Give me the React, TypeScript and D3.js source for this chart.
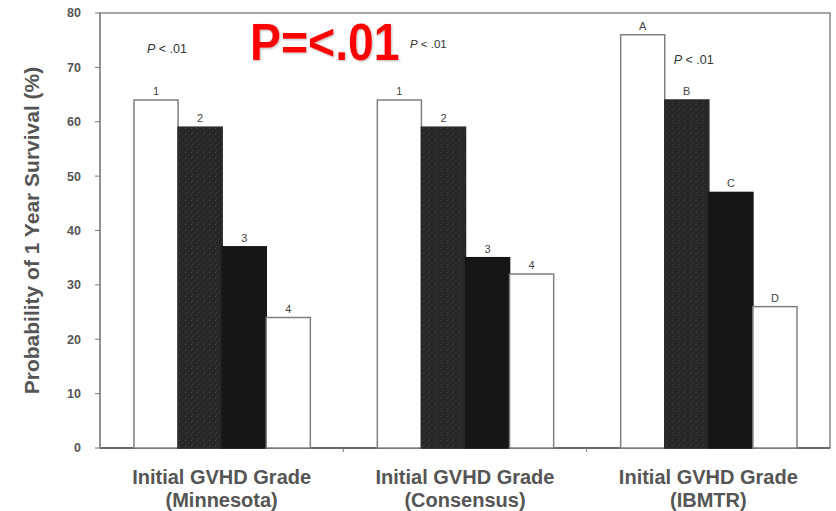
import React from 'react';
import * as d3 from 'd3';

// --- Data ---
const groups = ['Minnesota', 'Consensus', 'IBMTR'];
const barKeys = ['g1', 'g2', 'g3', 'g4'];
const minnesota = [64, 59, 37, 24];
const consensus = [64, 59, 35, 32];
const ibmtr = [76, 64, 47, 26];
const barLabels = [
  ['1', '2', '3', '4'],
  ['1', '2', '3', '4'],
  ['A', 'B', 'C', 'D'],
];
const yTicks = [0, 10, 20, 30, 40, 50, 60, 70, 80];
const pNotes = ['P < .01', 'P < .01', 'P < .01'];

const series = [minnesota, consensus, ibmtr];

const FONT = 'Liberation Sans, Arial, sans-serif';

const App = () => {
  const width = 836;
  const height = 511;
  const margin = { top: 13, right: 6, bottom: 63, left: 100 };
  const innerW = width - margin.left - margin.right;
  const innerH = height - margin.top - margin.bottom;

  const x0 = d3.scaleBand().domain(groups).range([0, innerW]).paddingInner(0).paddingOuter(0);
  const x1 = d3.scaleBand().domain(barKeys).range([34, x0.bandwidth() - 33]).padding(0);
  const y = d3.scaleLinear().domain([0, 80]).range([innerH, 0]);

  const fills = ['#ffffff', 'url(#speckle)', '#161616', '#ffffff'];
  const strokes = ['#808080', '#2a2a2a', '#161616', '#808080'];

  // p-note positions relative to each band (band-relative x, value-space y)
  const pPos = [
    { dx: 67, v: 72.6 },
    { dx: 85, v: 73.5 },
    { dx: 107, v: 70.6 },
  ];

  return (
    <svg width={width} height={height} style={{ position: 'absolute', left: 0, top: 0, background: '#fff' }}>
      <defs>
        <pattern id="speckle" width="6" height="6" patternUnits="userSpaceOnUse">
          <rect width="6" height="6" fill="#262626" />
          <rect x="1" y="1" width="1" height="1" fill="#4a4a4a" />
          <rect x="4" y="3" width="1" height="1" fill="#3d3d3d" />
          <rect x="2" y="5" width="1" height="1" fill="#444" />
        </pattern>
        <filter id="shadow" x="-10%" y="-10%" width="130%" height="130%">
          <feDropShadow dx="1" dy="1" stdDeviation="1" floodColor="#888" floodOpacity="0.6" />
        </filter>
      </defs>
      <g transform={`translate(${margin.left},${margin.top})`}>
        {/* frame */}
        <rect x={0} y={0} width={innerW} height={innerH} fill="none" stroke="#8a8a8a" strokeWidth={1.5} />
        <line x1={0} x2={innerW} y1={innerH} y2={innerH} stroke="#555" strokeWidth={1.5} />
        <line x1={0} x2={0} y1={0} y2={innerH} stroke="#8a8a8a" strokeWidth={1.5} />

        {/* y ticks */}
        {yTicks.map((t) => (
          <g key={t} transform={`translate(0,${y(t)})`}>
            <line x1={-5} x2={0} stroke="#777" strokeWidth={1} />
            <text x={-19} dy="0.35em" textAnchor="end" fontFamily={FONT} fontSize={12.5} fontWeight="bold" fill="#555">
              {t}
            </text>
          </g>
        ))}

        {/* x ticks at band boundaries */}
        {groups.slice(1).map((g) => (
          <line key={g} x1={x0(g)} x2={x0(g)} y1={innerH} y2={innerH + 4} stroke="#777" />
        ))}

        {/* bars */}
        {series.map((vals, gi) => (
          <g key={groups[gi]} transform={`translate(${x0(groups[gi])},0)`}>
            {vals.map((v, bi) => (
              <g key={bi}>
                <rect
                  x={x1(barKeys[bi])}
                  y={y(v)}
                  width={x1.bandwidth()}
                  height={innerH - y(v)}
                  fill={fills[bi]}
                  stroke={strokes[bi]}
                  strokeWidth={1.5}
                />
                <text
                  x={(x1(barKeys[bi]) as number) + x1.bandwidth() / 2}
                  y={y(v) - 5}
                  textAnchor="middle"
                  fontFamily={FONT}
                  fontSize={11}
                  fill="#444"
                >
                  {barLabels[gi][bi]}
                </text>
              </g>
            ))}
            <text
              x={pPos[gi].dx}
              y={y(pPos[gi].v)}
              textAnchor="middle"
              fontFamily={FONT}
              fontSize={gi === 1 ? 11.5 : 12.5}
              fill="#333"
            >
              <tspan fontStyle="italic">{pNotes[gi].slice(0, 1)}</tspan>
              {pNotes[gi].slice(1)}
            </text>
            <text
              x={x0.bandwidth() / 2}
              y={innerH + 36}
              textAnchor="middle"
              fontFamily={FONT}
              fontSize={20}
              fontWeight="bold"
              fill="#555"
            >
              Initial GVHD Grade
            </text>
            <text
              x={x0.bandwidth() / 2}
              y={innerH + 59}
              textAnchor="middle"
              fontFamily={FONT}
              fontSize={20}
              fontWeight="bold"
              fill="#555"
            >
              ({groups[gi]})
            </text>
          </g>
        ))}

        {/* y axis title */}
        <text
          transform={`translate(-61,${y(40)}) rotate(-90)`}
          textAnchor="middle"
          fontFamily={FONT}
          fontSize={21}
          fontWeight="bold"
          fill="#555"
        >
          Probability of 1 Year Survival (%)
        </text>
      </g>

      {/* red overlay annotation */}
      <text
        transform="translate(250,60) scale(0.91,1)"
        fontFamily={FONT}
        fontSize={51}
        fontWeight="bold"
        fill="#ff0000"
        filter="url(#shadow)"
      >
        P=&lt;.01
      </text>
    </svg>
  );
};

export default App;
